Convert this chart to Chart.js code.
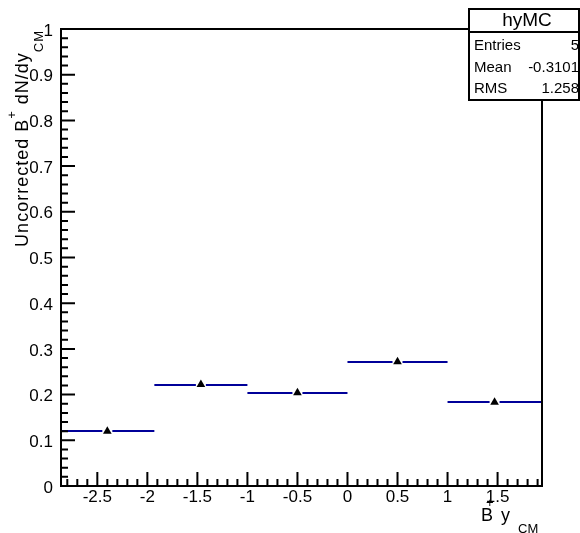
<!DOCTYPE html>
<html>
<head>
<meta charset="utf-8">
<script src="https://cdn.jsdelivr.net/npm/chart.js@4.4.1/dist/chart.umd.min.js"></script>
<style>
  html, body { margin: 0; padding: 0; background: #fff; }
</style>
</head>
<body>
<canvas id="c" width="580" height="533"></canvas>
<script>
// histogram hyMC: B+ rapidity in CM frame
const binEdges = [-2.863, -1.93, -1.0, 0.0, 1.0, 1.944];
const binCenters = [-2.40, -1.465, -0.5, 0.5, 1.47];
const yields = [0.120, 0.222, 0.204, 0.272, 0.183];
const xTickLabels = [-2.5, -2, -1.5, -1, -0.5, 0, 0.5, 1, 1.5];
const yTickLabels = [0, 0.1, 0.2, 0.3, 0.4, 0.5, 0.6, 0.7, 0.8, 0.9, 1];
const statNames = ['Entries', 'Mean', 'RMS'];
const statValues = ['5', '-0.3101', '1.258'];

const FONT = '"Liberation Sans", Arial, Helvetica, sans-serif';
const lineBlue = '#000099';

// ROOT-like frame, inward ticks, labels, titles and stat box
const rootStyle = {
  id: 'rootStyle',
  beforeDatasetsDraw(chart) {
    const c = chart.ctx, x = chart.scales.x, y = chart.scales.y;
    c.save();
    c.strokeStyle = lineBlue;
    c.lineWidth = 2;
    for (let i = 0; i < yields.length; i++) {
      const xl = x.getPixelForValue(binEdges[i]);
      const xr = x.getPixelForValue(binEdges[i + 1]);
      const xc = x.getPixelForValue(binCenters[i]);
      const py = Math.round(y.getPixelForValue(yields[i]));
      c.beginPath();
      c.moveTo(xl, py); c.lineTo(xc - 5, py);
      c.moveTo(xc + 5, py); c.lineTo(xr, py);
      c.stroke();
    }
    c.restore();
  },
  afterDraw(chart) {
    const c = chart.ctx, a = chart.chartArea, x = chart.scales.x, y = chart.scales.y;
    c.save();
    c.strokeStyle = '#000';
    c.lineWidth = 2;
    c.strokeRect(a.left, a.top, a.right - a.left, a.bottom - a.top);

    // x ticks
    c.beginPath();
    for (let k = -28; k <= 19; k++) {
      const v = k / 10;
      if (v < x.min || v > x.max) continue;
      const px = x.getPixelForValue(v);
      const len = (k % 5 === 0) ? 14 : 7;
      c.moveTo(px, a.bottom); c.lineTo(px, a.bottom - len);
    }
    // y ticks
    for (let k = 0; k <= 50; k++) {
      const py = y.getPixelForValue(k / 50);
      const len = (k % 5 === 0) ? 14 : 7;
      c.moveTo(a.left, py); c.lineTo(a.left + len, py);
    }
    c.stroke();

    c.fillStyle = '#000';
    c.font = '17px ' + FONT;
    c.textAlign = 'center';
    c.textBaseline = 'top';
    xTickLabels.forEach(v => c.fillText(String(v), x.getPixelForValue(v), a.bottom + 3));
    c.textAlign = 'right';
    c.textBaseline = 'middle';
    yTickLabels.forEach(v => c.fillText(String(v), a.left - 8, y.getPixelForValue(v) + 2));

    // x title: B+ y_CM
    c.textAlign = 'left';
    c.textBaseline = 'alphabetic';
    c.font = '18px ' + FONT;
    c.fillText('B', 481, 521);
    c.fillText('y', 501, 521);
    c.font = '13px ' + FONT;
    c.fillText('+', 486, 507);
    c.fillText('CM', 518, 533);

    // y title, rotated
    c.save();
    c.translate(28, 30);
    c.rotate(-Math.PI / 2);
    c.letterSpacing = '1px';
    const parts = [
      ['Uncorrected B', 18, 0],
      ['+', 13, -12],
      [' dN/dy', 18, 0],
      ['CM', 13, 15]
    ];
    let total = 0;
    parts.forEach(p => { c.font = p[1] + 'px ' + FONT; total += c.measureText(p[0]).width; });
    let sx = -total;
    parts.forEach(p => {
      c.font = p[1] + 'px ' + FONT;
      c.fillText(p[0], sx, p[2]);
      sx += c.measureText(p[0]).width;
    });
    c.restore();

    // stats box
    const bx = 469, by = 9, bw = 110, bh = 91;
    c.fillStyle = '#fff';
    c.fillRect(bx, by, bw, bh);
    c.strokeRect(bx, by, bw, bh);
    c.beginPath();
    c.moveTo(bx, 32); c.lineTo(bx + bw, 32);
    c.stroke();
    c.fillStyle = '#000';
    c.font = '19px ' + FONT;
    c.textAlign = 'center';
    c.textBaseline = 'middle';
    c.fillText('hyMC', bx + bw / 2 + 3, 21);
    c.font = '15px ' + FONT;
    statNames.forEach((n, i) => {
      const ry = 46 + i * 21.5;
      c.textAlign = 'left';
      c.fillText(n, bx + 5, ry);
      c.textAlign = 'right';
      c.fillText(statValues[i], bx + bw, ry);
    });
    c.restore();
  }
};

new Chart(document.getElementById('c'), {
  type: 'scatter',
  data: {
    datasets: [{
      data: binCenters.map((v, i) => ({ x: v, y: yields[i] })),
      pointStyle: 'triangle',
      pointRadius: 5,
      pointHoverRadius: 5,
      backgroundColor: '#000',
      borderColor: '#000',
      borderWidth: 0
    }]
  },
  options: {
    responsive: false,
    animation: false,
    devicePixelRatio: 1,
    layout: { padding: { left: 61, right: 38, top: 29, bottom: 47 } },
    plugins: { legend: { display: false }, tooltip: { enabled: false } },
    scales: {
      x: { type: 'linear', min: binEdges[0], max: binEdges[binEdges.length - 1], display: false },
      y: { min: 0, max: 1, display: false }
    }
  },
  plugins: [rootStyle]
});
</script>
</body>
</html>
